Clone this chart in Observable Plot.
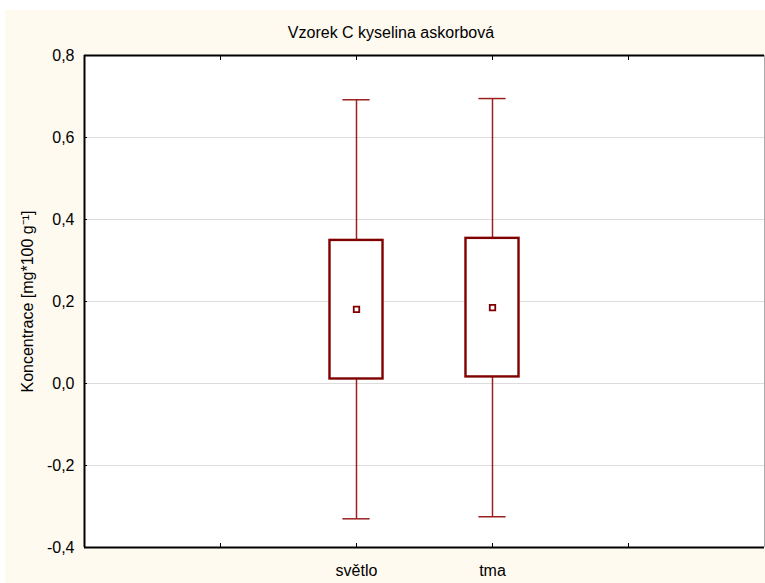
<!DOCTYPE html>
<html><head><meta charset="utf-8">
<script src="https://cdn.jsdelivr.net/npm/d3@7"></script>
<script src="https://cdn.jsdelivr.net/npm/@observablehq/plot@0.6"></script>
<style>
html,body{margin:0;padding:0;background:#fff;}
#wrap{position:absolute;left:5px;top:10px;width:760px;height:573px;background:#fffaf0;overflow:hidden;}
#wrap svg{display:block;position:absolute;left:0;top:0;}
#title{position:absolute;top:14px;left:0;width:772px;text-align:center;font:16px "Liberation Sans",Arial,sans-serif;line-height:18px;color:#000;z-index:2;}
</style></head><body>
<div id="wrap"><div id="title">Vzorek C kyselina askorbová</div></div>
<script>
const categories = ["světlo", "tma"];
const positions = [2, 3];
const whiskerLow = [-0.330, -0.325];
const q1 = [0.011, 0.016];
const means = [0.181, 0.185];
const q3 = [0.349, 0.354];
const whiskerHigh = [0.692, 0.695];
const yTicks = [-0.4, -0.2, 0, 0.2, 0.4, 0.6, 0.8];
const gridTicks = [-0.2, 0, 0.2, 0.4, 0.6];
const xTicks = [1, 2, 3, 4];
const xDomain = [0, 5];
const yDomain = [-0.4, 0.8];

const data = categories.map((c, i) => ({c, x: positions[i], lo: whiskerLow[i], q1: q1[i], mean: means[i], q3: q3[i], hi: whiskerHigh[i]}));
const fmt = d => d3.format(".1f")(d).replace(".", ",").replace("\u2212", "-");
const catLabel = d => { const i = positions.indexOf(d); return i >= 0 ? categories[i] : ""; };
const boxHalf = 0.195, capHalf = 0.1;
const dark = "#800000", whisk = "#9a2020";

const chart = Plot.plot({
  width: 760, height: 573,
  marginLeft: 79, marginRight: 1, marginTop: 45, marginBottom: 36,
  style: {background: "transparent", fontSize: "16px", fontFamily: "'Liberation Sans', Arial, sans-serif", color: "#000"},
  x: {type: "linear", domain: xDomain},
  y: {domain: yDomain},
  marks: [
    Plot.frame({fill: "white", stroke: null}),
    Plot.gridY(gridTicks, {stroke: "#dcdcdc", strokeOpacity: 1, strokeWidth: 1}),
    Plot.ruleX(data, {x: "x", y1: "lo", y2: "q1", stroke: whisk, strokeWidth: 1.5}),
    Plot.ruleX(data, {x: "x", y1: "q3", y2: "hi", stroke: whisk, strokeWidth: 1.5}),
    Plot.ruleY(data, {y: "lo", x1: d => d.x - capHalf, x2: d => d.x + capHalf, stroke: whisk, strokeWidth: 1.5}),
    Plot.ruleY(data, {y: "hi", x1: d => d.x - capHalf, x2: d => d.x + capHalf, stroke: whisk, strokeWidth: 1.5}),
    Plot.rect(data, {x1: d => d.x - boxHalf, x2: d => d.x + boxHalf, y1: "q1", y2: "q3", fill: "white", stroke: dark, strokeWidth: 2.4}),
    Plot.dot(data, {x: "x", y: "mean", symbol: "square", r: 3.1, fill: "white", stroke: dark, strokeWidth: 1.8}),
    Plot.ruleX([xDomain[1]], {stroke: "#aaaaaa", strokeWidth: 1}),
    Plot.ruleY([yDomain[0]], {stroke: "#000", strokeWidth: 2}),
    Plot.ruleY([yDomain[1]], {stroke: "#000", strokeWidth: 2}),
    Plot.ruleX([xDomain[0]], {stroke: "#000", strokeWidth: 2}),
    Plot.axisX({ticks: xTicks, anchor: "bottom", tickSize: -4, tickFormat: () => "", label: null}),
    Plot.axisX({ticks: xTicks, anchor: "top", tickSize: -4, tickFormat: () => "", label: null}),
    Plot.axisX({ticks: positions, anchor: "bottom", tickSize: 0, tickPadding: 17, tickFormat: catLabel, label: null}),
    Plot.axisY({ticks: gridTicks, anchor: "left", tickSize: -3, tickFormat: () => "", label: null}),
    Plot.axisY({ticks: yTicks, anchor: "left", tickSize: 0, tickPadding: 10, tickFormat: fmt,
      label: "Koncentrace [mg*100 g\u207B\u00B9]", labelAnchor: "center", labelArrow: "none", labelOffset: 63})
  ]
});
document.getElementById("wrap").appendChild(chart);
</script>
</body></html>
